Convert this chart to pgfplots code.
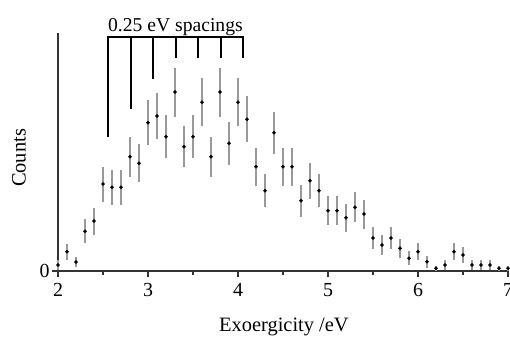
\documentclass[border=0pt]{standalone}
\usepackage{pgfplots}
\pgfplotsset{compat=1.18}
\usepackage{pgfplotstable}
\usepackage{fontspec}
\setmainfont{Liberation Serif}
\pgfplotstableread{
x y e
2.0 6 5
2.1 19.3 8
2.2 9 5
2.3 39.7 12
2.4 50 13.5
2.5 87 17.5
2.6 83.7 17.5
2.7 83.7 17.5
2.8 114.3 20
2.9 107.7 19
3.0 148.3 22.5
3.1 155 23
3.2 134.3 21.7
3.3 179 24.5
3.4 124.3 20.3
3.5 134.3 21.5
3.6 168.7 24
3.7 114.3 20
3.8 179 24.5
3.9 127.7 21.7
4.0 168.7 24
4.1 151.7 23
4.2 104.3 19
4.3 80.3 16.7
4.4 138.3 21
4.5 104.3 19
4.6 104.3 19
4.7 70.3 16
4.8 90.3 18
4.9 80.3 16.7
5.0 60.3 14.5
5.1 60.3 14.5
5.2 53.3 14
5.3 63.7 15
5.4 57 14.5
5.5 33 10.7
5.6 26 10
5.7 33 10.7
5.8 22.7 9.2
5.9 12.7 7
6.0 19.3 8.3
6.1 9.3 6
6.2 2.7 2.5
6.3 6 5
6.4 19.3 8.3
6.5 16 7.7
6.6 6 5
6.7 6 5
6.8 6 5
6.9 2.7 2.5
7.0 2.7 2.5
}\datatable
\begin{document}
\begin{tikzpicture}
\begin{axis}[
  scale only axis, width=450bp, height=238bp,
  xmin=2, xmax=7, ymin=0, ymax=238,
  axis x line=bottom, axis y line=left,
  axis line style={-, line width=1.3bp, black!80},
  xtick={2,3,4,5,6,7}, minor xtick={2.5,3.5,4.5,5.5,6.5},
  ytick={0},
  tick align=outside,
  major tick length=6bp, minor tick length=4bp,
  every tick/.style={line width=1.3bp, black!80},
  tick label style={font=\fontsize{20}{23}\selectfont},
  xticklabel style={yshift=-3bp},
  yticklabel style={xshift=1bp},
  /pgf/number format/assume math mode=true,
  xlabel={Exoergicity /eV}, ylabel={Counts},
  label style={font=\fontsize{20.5}{24}\selectfont},
  xlabel style={at={(axis description cs:0.502,-0.255)}, anchor=base},
  ylabel style={at={(axis description cs:-0.087,0.475)}, anchor=center},
  clip=false,
]
\addplot[only marks, mark=*, mark size=1.6bp, black,
  error bars/.cd, y dir=both, y explicit,
  error bar style={line width=1.3bp, black!40},
  error mark=none]
  table[x=x, y=y, y error=e] {\datatable};
\draw[line width=2bp, black] (axis cs:2.56,134.3) -- (axis cs:2.56,234.3) -- (axis cs:4.06,234.3) -- (axis cs:4.06,212.7);
\draw[line width=2bp, black] (axis cs:2.81,234.3) -- (axis cs:2.81,161.7);
\draw[line width=2bp, black] (axis cs:3.06,234.3) -- (axis cs:3.06,192);
\draw[line width=2bp, black] (axis cs:3.31,234.3) -- (axis cs:3.31,212.7);
\draw[line width=2bp, black] (axis cs:3.56,234.3) -- (axis cs:3.56,212.7);
\draw[line width=2bp, black] (axis cs:3.81,234.3) -- (axis cs:3.81,212.7);
\node[anchor=base, font=\fontsize{19.7}{23}\selectfont, inner sep=0pt] at (axis cs:3.305,240) {0.25 eV spacings};
\end{axis}
\pgfresetboundingbox
\useasboundingbox (-58bp,-67bp) rectangle (452bp,271bp);
\end{tikzpicture}
\end{document}
